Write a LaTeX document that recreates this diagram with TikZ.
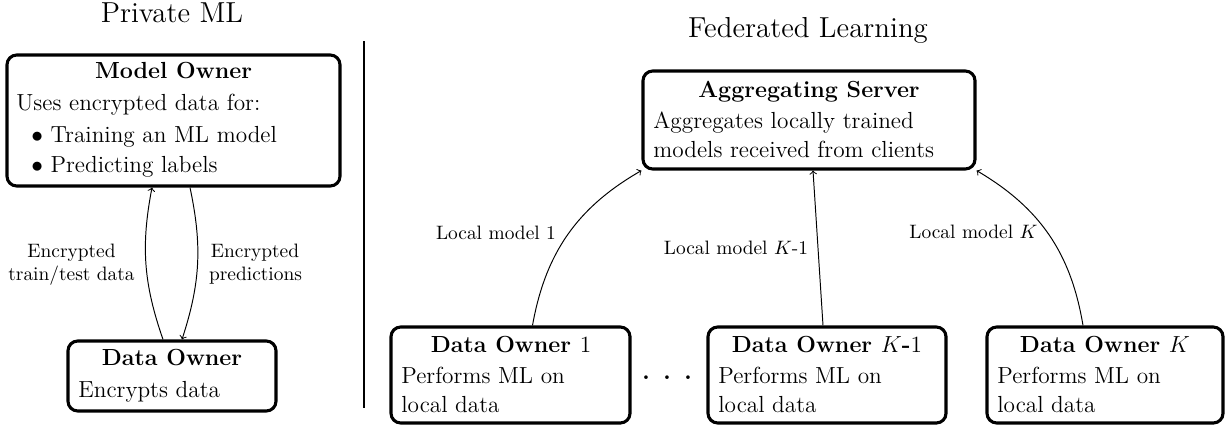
\documentclass[tikz,border=0pt]{standalone}
\usetikzlibrary{calc,fit}
\begin{document}
\begin{tikzpicture}[x=0.5155pt,y=-0.5155pt,
  box/.style={draw, line width=1.6pt, rounded corners=5pt, inner sep=0pt},
  ttl/.style={anchor=base, inner sep=0pt, font=\fontsize{14.9}{18}\selectfont},
  hd/.style={anchor=base, inner sep=0pt, font=\large\bfseries},
  txt/.style={anchor=base west, inner sep=0pt, font=\large},
  lbl/.style={anchor=base, inner sep=0pt, font=\normalsize},
  arr/.style={->, line width=0.5pt}]
\useasboundingbox (0,0) rectangle (1225,425);

% titles
\node[ttl] (t1) at (172,22) {Private ML};
\node[ttl] (t2) at (808,37) {Federated Learning};

% separator
\coordinate (v1) at (364,41);
\coordinate (v2) at (364,408);
\draw[line width=0.8pt] (v1) -- (v2);

% boxes
\node[box, fit={(7,55) (340,186)}] (mo) {};
\node[box, fit={(68,341) (276,411)}] (do) {};
\node[box, fit={(643,71) (975,169)}] (agg) {};
\node[box, fit={(391,327) (630,423)}] (do1) {};
\node[box, fit={(708,327) (946,423)}] (dok1) {};
\node[box, fit={(987,327) (1223,423)}] (dok) {};

% Model Owner
\node[hd] (moh) at (173.5,78) {Model Owner};
\node[txt] (mo1) at (16,110) {Uses encrypted data for:};
\node[txt] (mo2) at (31,142) {$\bullet$ Training an ML model};
\node[txt] (mo3) at (31,172) {$\bullet$ Predicting labels};

% Data Owner (private)
\node[hd] (doh) at (172,365) {Data Owner};
\node[txt] (do1t) at (78,397) {Encrypts data};

% Aggregating server
\node[hd] (aggh) at (809,97) {Aggregating Server};
\node[txt] (agg1) at (653,128) {Aggregates locally trained};
\node[txt] (agg2) at (653,157) {models received from clients};

% Data owners (federated)
\node[hd] (d1h) at (511,352) {Data Owner \mdseries 1};
\node[txt] (d1a) at (401,383) {Performs ML on};
\node[txt] (d1b) at (401,412) {local data};

\node[hd] (dk1h) at (827,352) {Data Owner \mdseries$K$\textbf{-}1};
\node[txt] (dk1a) at (718,383) {Performs ML on};
\node[txt] (dk1b) at (718,412) {local data};

\node[hd] (dkh) at (1105,352) {Data Owner \mdseries$K$};
\node[txt] (dka) at (997,383) {Performs ML on};
\node[txt] (dkb) at (997,412) {local data};

\node[anchor=base, inner sep=0pt, font=\large\boldmath] (dots) at (667,383) {$\cdot$\hspace{7pt}$\cdot$\hspace{7pt}$\cdot$};

% labels
\node[lbl] (l1a) at (71.5,257) {Encrypted};
\node[lbl] (l1b) at (71.5,280) {train/test data};
\node[lbl] (l2a) at (255,257) {Encrypted};
\node[lbl] (l2b) at (255.5,280) {predictions};
\node[lbl] (l3) at (496,239) {Local model 1};
\node[lbl] (l4) at (736,254) {Local model $K$-1};
\node[lbl] (l5) at (973.5,238) {Local model $K$};

% arrows
\draw[arr] ($(do.north)+(-9,0)$) to[bend left=15] ($(mo.south)+(-21.5,0)$);
\draw[arr] ($(mo.south)+(16.5,0)$) to[bend left=15] ($(do.north)+(10,0)$);
\draw[arr] ($(do1.north)+(22,0)$) to[bend left=25] (agg.south west);
\draw[arr] ($(dok1.north)+(-4,0)$) -- ($(agg.south)+(4,0)$);
\draw[arr] ($(dok.north)+(-22,0)$) to[bend right=25] (agg.south east);
\end{tikzpicture}
\end{document}
